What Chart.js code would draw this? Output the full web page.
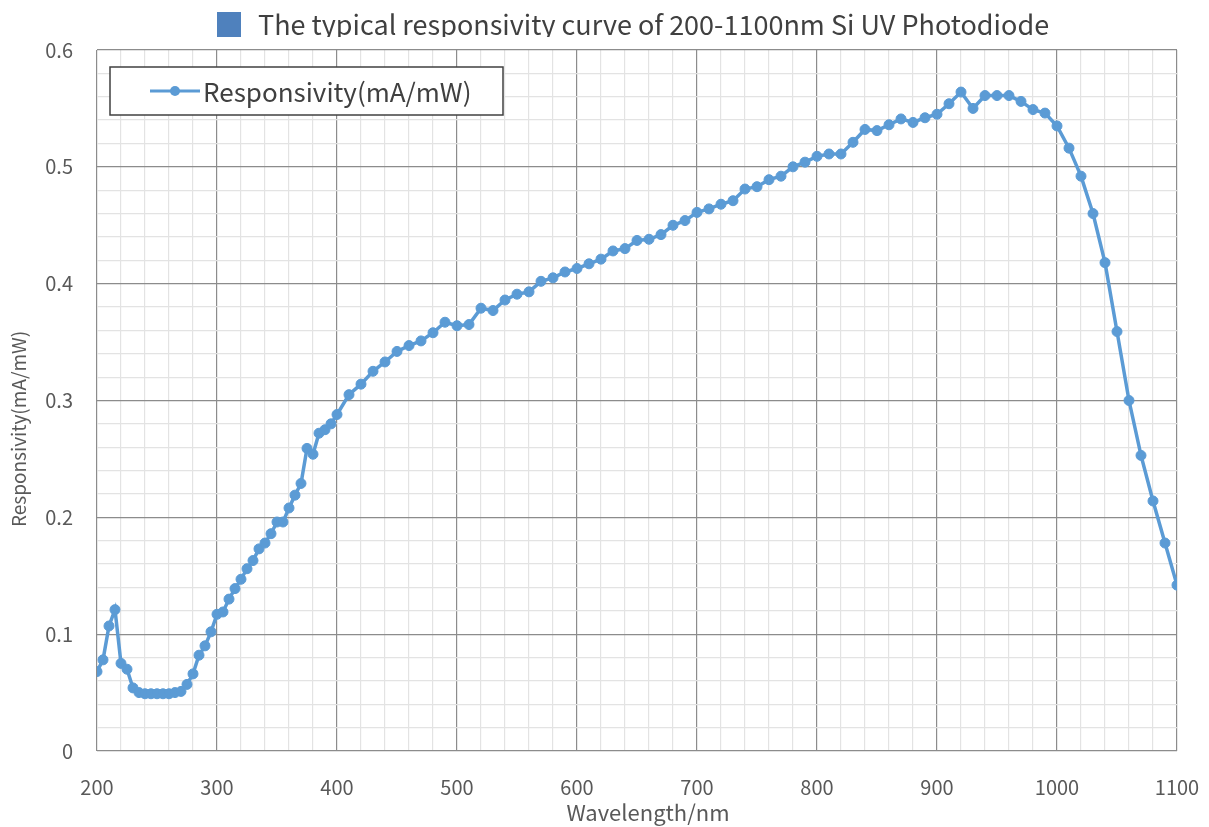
<!DOCTYPE html>
<html lang="en">
<head>
    <meta charset="UTF-8">
    <title>Si UV Photodiode Responsivity</title>
    <script src="https://cdn.jsdelivr.net/npm/chart.js@4.4.0/dist/chart.umd.js"></script>
    <style>
        html, body { margin: 0; padding: 0; background: #ffffff; }
        #wrap { width: 1209px; height: 827px; position: relative; }
    </style>
</head>
<body>
<div id="wrap"><canvas id="respChart" width="1209" height="827"></canvas></div>
<script>
// wavelength (nm)
const wavelengths = [
    200, 205, 210, 215, 220, 225, 230, 235, 240, 245, 250, 255, 260, 265, 270, 275, 280, 285, 290, 295,
    300, 305, 310, 315, 320, 325, 330, 335, 340, 345, 350, 355, 360, 365, 370, 375, 380, 385, 390, 395,
    400, 410, 420, 430, 440, 450, 460, 470, 480, 490, 500, 510, 520, 530, 540, 550, 560, 570, 580, 590,
    600, 610, 620, 630, 640, 650, 660, 670, 680, 690, 700, 710, 720, 730, 740, 750, 760, 770, 780, 790,
    800, 810, 820, 830, 840, 850, 860, 870, 880, 890, 900, 910, 920, 930, 940, 950, 960, 970, 980, 990,
    1000, 1010, 1020, 1030, 1040, 1050, 1060, 1070, 1080, 1090, 1100
];
// responsivity (mA/mW)
const responsivity = [
    0.068, 0.078, 0.107, 0.121, 0.075, 0.070, 0.054, 0.050, 0.049, 0.049, 0.049, 0.049, 0.049, 0.050, 0.051, 0.057, 0.066, 0.082, 0.090, 0.102,
    0.117, 0.119, 0.130, 0.139, 0.147, 0.156, 0.163, 0.173, 0.178, 0.186, 0.196, 0.196, 0.208, 0.219, 0.229, 0.259, 0.254, 0.272, 0.275, 0.280,
    0.288, 0.305, 0.314, 0.325, 0.333, 0.342, 0.347, 0.351, 0.358, 0.367, 0.364, 0.365, 0.379, 0.377, 0.386, 0.391, 0.393, 0.402, 0.405, 0.410,
    0.413, 0.417, 0.421, 0.428, 0.430, 0.437, 0.438, 0.442, 0.450, 0.454, 0.461, 0.464, 0.468, 0.471, 0.481, 0.483, 0.489, 0.492, 0.500, 0.504,
    0.509, 0.511, 0.511, 0.521, 0.532, 0.531, 0.536, 0.541, 0.538, 0.542, 0.545, 0.554, 0.564, 0.550, 0.561, 0.561, 0.561, 0.556, 0.549, 0.546,
    0.535, 0.516, 0.492, 0.460, 0.418, 0.359, 0.300, 0.253, 0.214, 0.178, 0.142
];
// axis ticks that carry a label
const xTickLabels = [200, 300, 400, 500, 600, 700, 800, 900, 1000, 1100];
const yTickLabels = ['0', '0.1', '0.2', '0.3', '0.4', '0.5', '0.6'];

const titleText = 'The typical responsivity curve of 200-1100nm Si UV Photodiode';
const seriesName = 'Responsivity(mA/mW)';
const xTitle = 'Wavelength/nm';
const yTitle = 'Responsivity(mA/mW)';
const lineColor = '#5B9BD5';
const FONT = '"Noto Sans CJK SC", "Noto Sans", sans-serif';

function isMajorX(v) { return xTickLabels.indexOf(Math.round(v)) !== -1; }
function isMajorY(v) { return Math.round(v * 100) % 10 === 0; }

// title (clipped at top like the source image), axis titles and boxed legend
const decorPlugin = {
    id: 'decor',
    afterDraw(chart) {
        const ctx = chart.ctx;
        ctx.save();
        ctx.beginPath();
        ctx.rect(0, 0, chart.width, 37);
        ctx.clip();
        ctx.font = '27px ' + FONT;
        ctx.fillStyle = '#404040';
        ctx.textBaseline = 'alphabetic';
        ctx.textAlign = 'left';
        ctx.fillText(titleText, 258, 35);
        ctx.fillStyle = '#4F81BD';
        ctx.fillRect(217, 12, 24, 25);
        ctx.restore();

        // axis titles
        ctx.save();
        ctx.fillStyle = '#595959';
        ctx.font = '22px ' + FONT;
        ctx.textAlign = 'center';
        ctx.textBaseline = 'alphabetic';
        ctx.fillText(xTitle, 648, 821);
        ctx.translate(26, 429);
        ctx.rotate(-Math.PI / 2);
        ctx.font = '19px ' + FONT;
        ctx.fillText(yTitle, 0, 0);
        ctx.restore();

        // legend
        ctx.save();
        ctx.fillStyle = '#ffffff';
        ctx.fillRect(110, 67, 393, 48);
        ctx.strokeStyle = '#404040';
        ctx.lineWidth = 1.5;
        ctx.strokeRect(110, 67, 393, 48);
        ctx.strokeStyle = lineColor;
        ctx.lineWidth = 3;
        ctx.beginPath();
        ctx.moveTo(150, 91);
        ctx.lineTo(200, 91);
        ctx.stroke();
        ctx.fillStyle = lineColor;
        ctx.beginPath();
        ctx.arc(175, 91, 5, 0, Math.PI * 2);
        ctx.fill();
        ctx.font = '26px ' + FONT;
        ctx.fillStyle = '#404040';
        ctx.textAlign = 'left';
        ctx.textBaseline = 'middle';
        ctx.fillText(seriesName, 203, 92);
        ctx.restore();
    }
};

const points = wavelengths.map((w, i) => ({ x: w, y: responsivity[i] }));

new Chart(document.getElementById('respChart').getContext('2d'), {
    type: 'line',
    data: {
        datasets: [{
            label: seriesName,
            data: points,
            borderColor: lineColor,
            backgroundColor: lineColor,
            borderWidth: 3.5,
            pointRadius: 5,
            pointBackgroundColor: lineColor,
            pointBorderColor: lineColor,
            pointBorderWidth: 1,
            tension: 0,
            fill: false
        }]
    },
    options: {
        responsive: false,
        animation: false,
        layout: { padding: { top: 50, right: 32, left: 0, bottom: 0 } },
        plugins: {
            legend: { display: false },
            title: { display: false },
            tooltip: { enabled: false }
        },
        scales: {
            x: {
                type: 'linear',
                min: 200,
                max: 1100,
                afterFit(scale) { scale.height = 76; scale.paddingRight = 0; },
                ticks: {
                    stepSize: 20,
                    autoSkip: false,
                    maxRotation: 0,
                    padding: 24,
                    color: '#595959',
                    font: { family: FONT, size: 20 },
                    callback: v => isMajorX(v) ? String(Math.round(v)) : ''
                },
                grid: {
                    drawTicks: false,
                    lineWidth: 1.2,
                    color: c => isMajorX(c.tick.value) ? '#8c8c8c' : '#e3e3e3'
                },
                border: { display: false }
            },
            y: {
                min: 0,
                max: 0.6,
                afterFit(scale) { scale.width = 97; },
                ticks: {
                    stepSize: 0.02,
                    autoSkip: false,
                    padding: 24,
                    color: '#595959',
                    font: { family: FONT, size: 20 },
                    callback: v => isMajorY(v) ? yTickLabels[Math.round(v * 10)] : ''
                },
                grid: {
                    drawTicks: false,
                    lineWidth: 1.2,
                    color: c => isMajorY(c.tick.value) ? '#8c8c8c' : '#e3e3e3'
                },
                border: { display: false }
            }
        }
    },
    plugins: [decorPlugin]
});
</script>
</body>
</html>
